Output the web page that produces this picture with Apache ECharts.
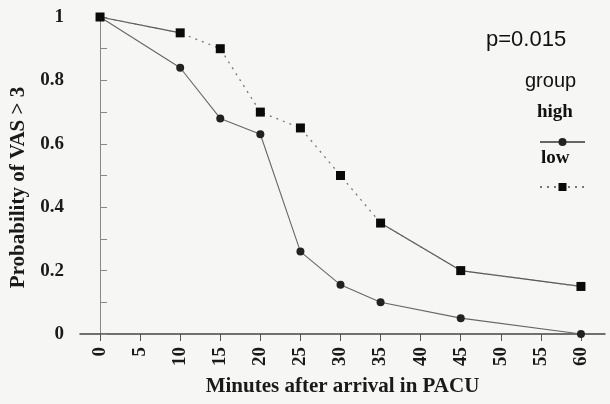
<!DOCTYPE html>
<html>
<head>
<meta charset="utf-8">
<script src="https://cdn.jsdelivr.net/npm/echarts@6/dist/echarts.min.js"></script>
<style>
  html, body { margin: 0; padding: 0; background: #f6f6f4; }
  #chart { width: 610px; height: 404px; }
</style>
</head>
<body>
<div id="chart"></div>
<script>
// minutes after arrival
var minutes = [0, 10, 15, 20, 25, 30, 35, 45, 60]
var highProb = [1, 0.84, 0.68, 0.63, 0.26, 0.155, 0.10, 0.05, 0]
var lowProb = [1, 0.95, 0.90, 0.70, 0.65, 0.50, 0.35, 0.20, 0.15]
// parts of the low curve that are drawn solid in the original
var lowSolid = [true, true, false, false, false, false, true, true, true]
var xTicks = [0, 5, 10, 15, 20, 25, 30, 35, 40, 45, 50, 55, 60]
var yLabels = [0, 0.2, 0.4, 0.6, 0.8, 1]

var serif = 'Liberation Serif'
var sans = 'Liberation Sans'

function pairs(ys) {
    return minutes.map(function (m, i) { return [m, ys[i]] })
}

var lowSolidData = minutes.map(function (m, i) {
    return lowSolid[i] ? [m, lowProb[i]] : [m, null]
})

var myChart = echarts.init(document.getElementById('chart'))

myChart.setOption({
    backgroundColor: '#f6f6f4',
    animation: false,
    grid: { left: 80, right: 5, top: 17, bottom: 70, outerBoundsMode: 'none', containLabel: false },
    xAxis: {
        type: 'value',
        min: -2.5,
        max: 63,
        name: 'Minutes after arrival in PACU',
        nameLocation: 'middle',
        nameGap: 42,
        nameTextStyle: { fontFamily: serif, fontWeight: 'bold', fontSize: 21, color: '#1a1a1a' },
        splitLine: { show: false },
        axisLine: { lineStyle: { color: '#444', width: 1.5 } },
        axisTick: { customValues: xTicks, length: 7, lineStyle: { color: '#555' } },
        axisLabel: {
            customValues: xTicks,
            rotate: 90,
            margin: 13,
            fontFamily: serif,
            fontWeight: 'bold',
            fontSize: 19,
            color: '#1a1a1a'
        }
    },
    yAxis: {
        type: 'value',
        min: 0,
        max: 1,
        interval: 0.1,
        name: 'Probability of VAS > 3',
        nameLocation: 'middle',
        nameGap: 50,
        nameTextStyle: {
            fontFamily: serif, fontWeight: 'bold', fontSize: 21, color: '#1a1a1a',
            padding: [0, 24, 0, 0]
        },
        splitLine: { show: false },
        axisLine: { show: true, lineStyle: { color: '#888', width: 1 } },
        axisTick: { show: true, inside: true, length: 7, lineStyle: { color: '#888' } },
        axisLabel: {
            customValues: yLabels,
            margin: 16,
            fontFamily: serif,
            fontWeight: 'bold',
            fontSize: 19,
            color: '#1a1a1a'
        }
    },
    legend: {
        orient: 'vertical',
        left: 534,
        top: 132,
        itemWidth: 45,
        itemHeight: 10,
        itemGap: 36,
        data: ['high', 'low'],
        formatter: function () { return '' },
        textStyle: { fontSize: 1 }
    },
    graphic: [
        { type: 'text', left: 486, top: 29, style: { text: 'p=0.015', fontFamily: sans, fontSize: 22, fill: '#111' } },
        { type: 'text', left: 525, top: 71, style: { text: 'group', fontFamily: sans, fontSize: 20, fill: '#111' } },
        { type: 'text', left: 537, top: 103, style: { text: 'high', fontFamily: serif, fontWeight: 'bold', fontSize: 19, fill: '#111' } },
        { type: 'text', left: 541, top: 149, style: { text: 'low', fontFamily: serif, fontWeight: 'bold', fontSize: 19, fill: '#111' } }
    ],
    series: [
        {
            name: 'high',
            type: 'line',
            data: pairs(highProb),
            symbol: 'circle',
            symbolSize: 8,
            itemStyle: { color: '#222' },
            lineStyle: { color: '#666', width: 1.1 },
            z: 3
        },
        {
            name: 'low',
            type: 'line',
            data: pairs(lowProb),
            symbol: 'rect',
            symbolSize: 9,
            itemStyle: { color: '#0a0a0a' },
            lineStyle: { color: '#777', width: 1.3, type: [2, 5] },
            z: 3
        },
        {
            name: 'low-solid',
            type: 'line',
            data: lowSolidData,
            connectNulls: false,
            showSymbol: false,
            symbol: 'none',
            lineStyle: { color: '#555', width: 1.2 },
            z: 2
        }
    ]
})
</script>
</body>
</html>
